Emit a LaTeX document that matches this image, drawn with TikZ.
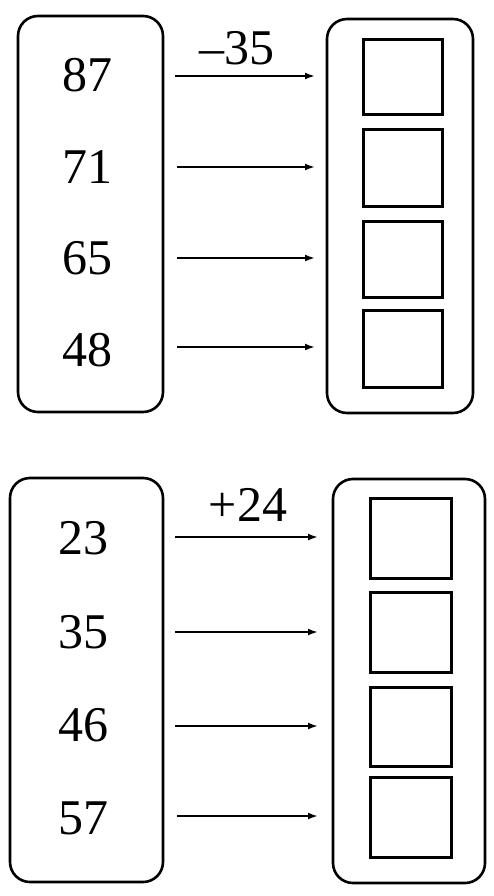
\documentclass[tikz,border=0pt]{standalone}
\usepackage{fontspec}
\setmainfont{Liberation Serif}
\usetikzlibrary{arrows.meta}
\begin{document}
\begin{tikzpicture}[x=1pt,y=-1pt,
  panel/.style={draw, line width=2.6pt, rounded corners=20pt},
  slot/.style={draw, line width=3pt},
  num/.style={font=\fontsize{50}{50}\selectfont, inner sep=0pt},
  conn/.style={line width=2.4pt, -{Latex[length=10pt,width=7pt]}}
]
\useasboundingbox (0,0) rectangle (494,896);
% top panel
\node[panel, minimum width=145pt, minimum height=396pt] (L1) at (90.5,214) {};
\node[panel, minimum width=146pt, minimum height=394pt] (R1) at (400,216) {};
\node[slot, minimum width=79pt, minimum height=75pt] (s11) at (402.5,77.5) {};
\node[slot, minimum width=79pt, minimum height=76pt] (s12) at (402.5,168) {};
\node[slot, minimum width=79pt, minimum height=76pt] (s13) at (402.5,259) {};
\node[slot, minimum width=79pt, minimum height=77pt] (s14) at (402.5,348.5) {};
\node[num] (a1) at (87,75) {87};
\node[num] (a2) at (87,167) {71};
\node[num] (a3) at (87,258) {65};
\node[num] (a4) at (87,350) {48};
\coordinate (p1) at (175,76);
\coordinate (q1) at (315,76);
\coordinate (p2) at (177,167);
\coordinate (q2) at (315,167);
\coordinate (p3) at (177,258);
\coordinate (q3) at (315,258);
\coordinate (p4) at (177,347);
\coordinate (q4) at (315,347);
\draw[conn] (p1) -- (q1);
\draw[conn] (p2) -- (q2);
\draw[conn] (p3) -- (q3);
\draw[conn] (p4) -- (q4);
\node[num] (lab1) at (237,48) {\textendash35};
% bottom panel
\node[panel, minimum width=153pt, minimum height=404pt] (L2) at (86.5,680) {};
\node[panel, minimum width=152pt, minimum height=404pt] (R2) at (409,681) {};
\node[slot, minimum width=81pt, minimum height=80pt] (s21) at (410.5,538) {};
\node[slot, minimum width=81pt, minimum height=80pt] (s22) at (410.5,632) {};
\node[slot, minimum width=81pt, minimum height=79pt] (s23) at (410.5,726.5) {};
\node[slot, minimum width=81pt, minimum height=80pt] (s24) at (410.5,817) {};
\node[num] (b1) at (83,538) {23};
\node[num] (b2) at (83,632) {35};
\node[num] (b3) at (83,725) {46};
\node[num] (b4) at (83,818) {57};
\coordinate (u1) at (175,537);
\coordinate (v1) at (318,537);
\coordinate (u2) at (175,632);
\coordinate (v2) at (318,632);
\coordinate (u3) at (175,726);
\coordinate (v3) at (318,726);
\coordinate (u4) at (177,816);
\coordinate (v4) at (318,816);
\draw[conn] (u1) -- (v1);
\draw[conn] (u2) -- (v2);
\draw[conn] (u3) -- (v3);
\draw[conn] (u4) -- (v4);
\node[num] (lab2) at (248,505) {+24};
\end{tikzpicture}
\end{document}
